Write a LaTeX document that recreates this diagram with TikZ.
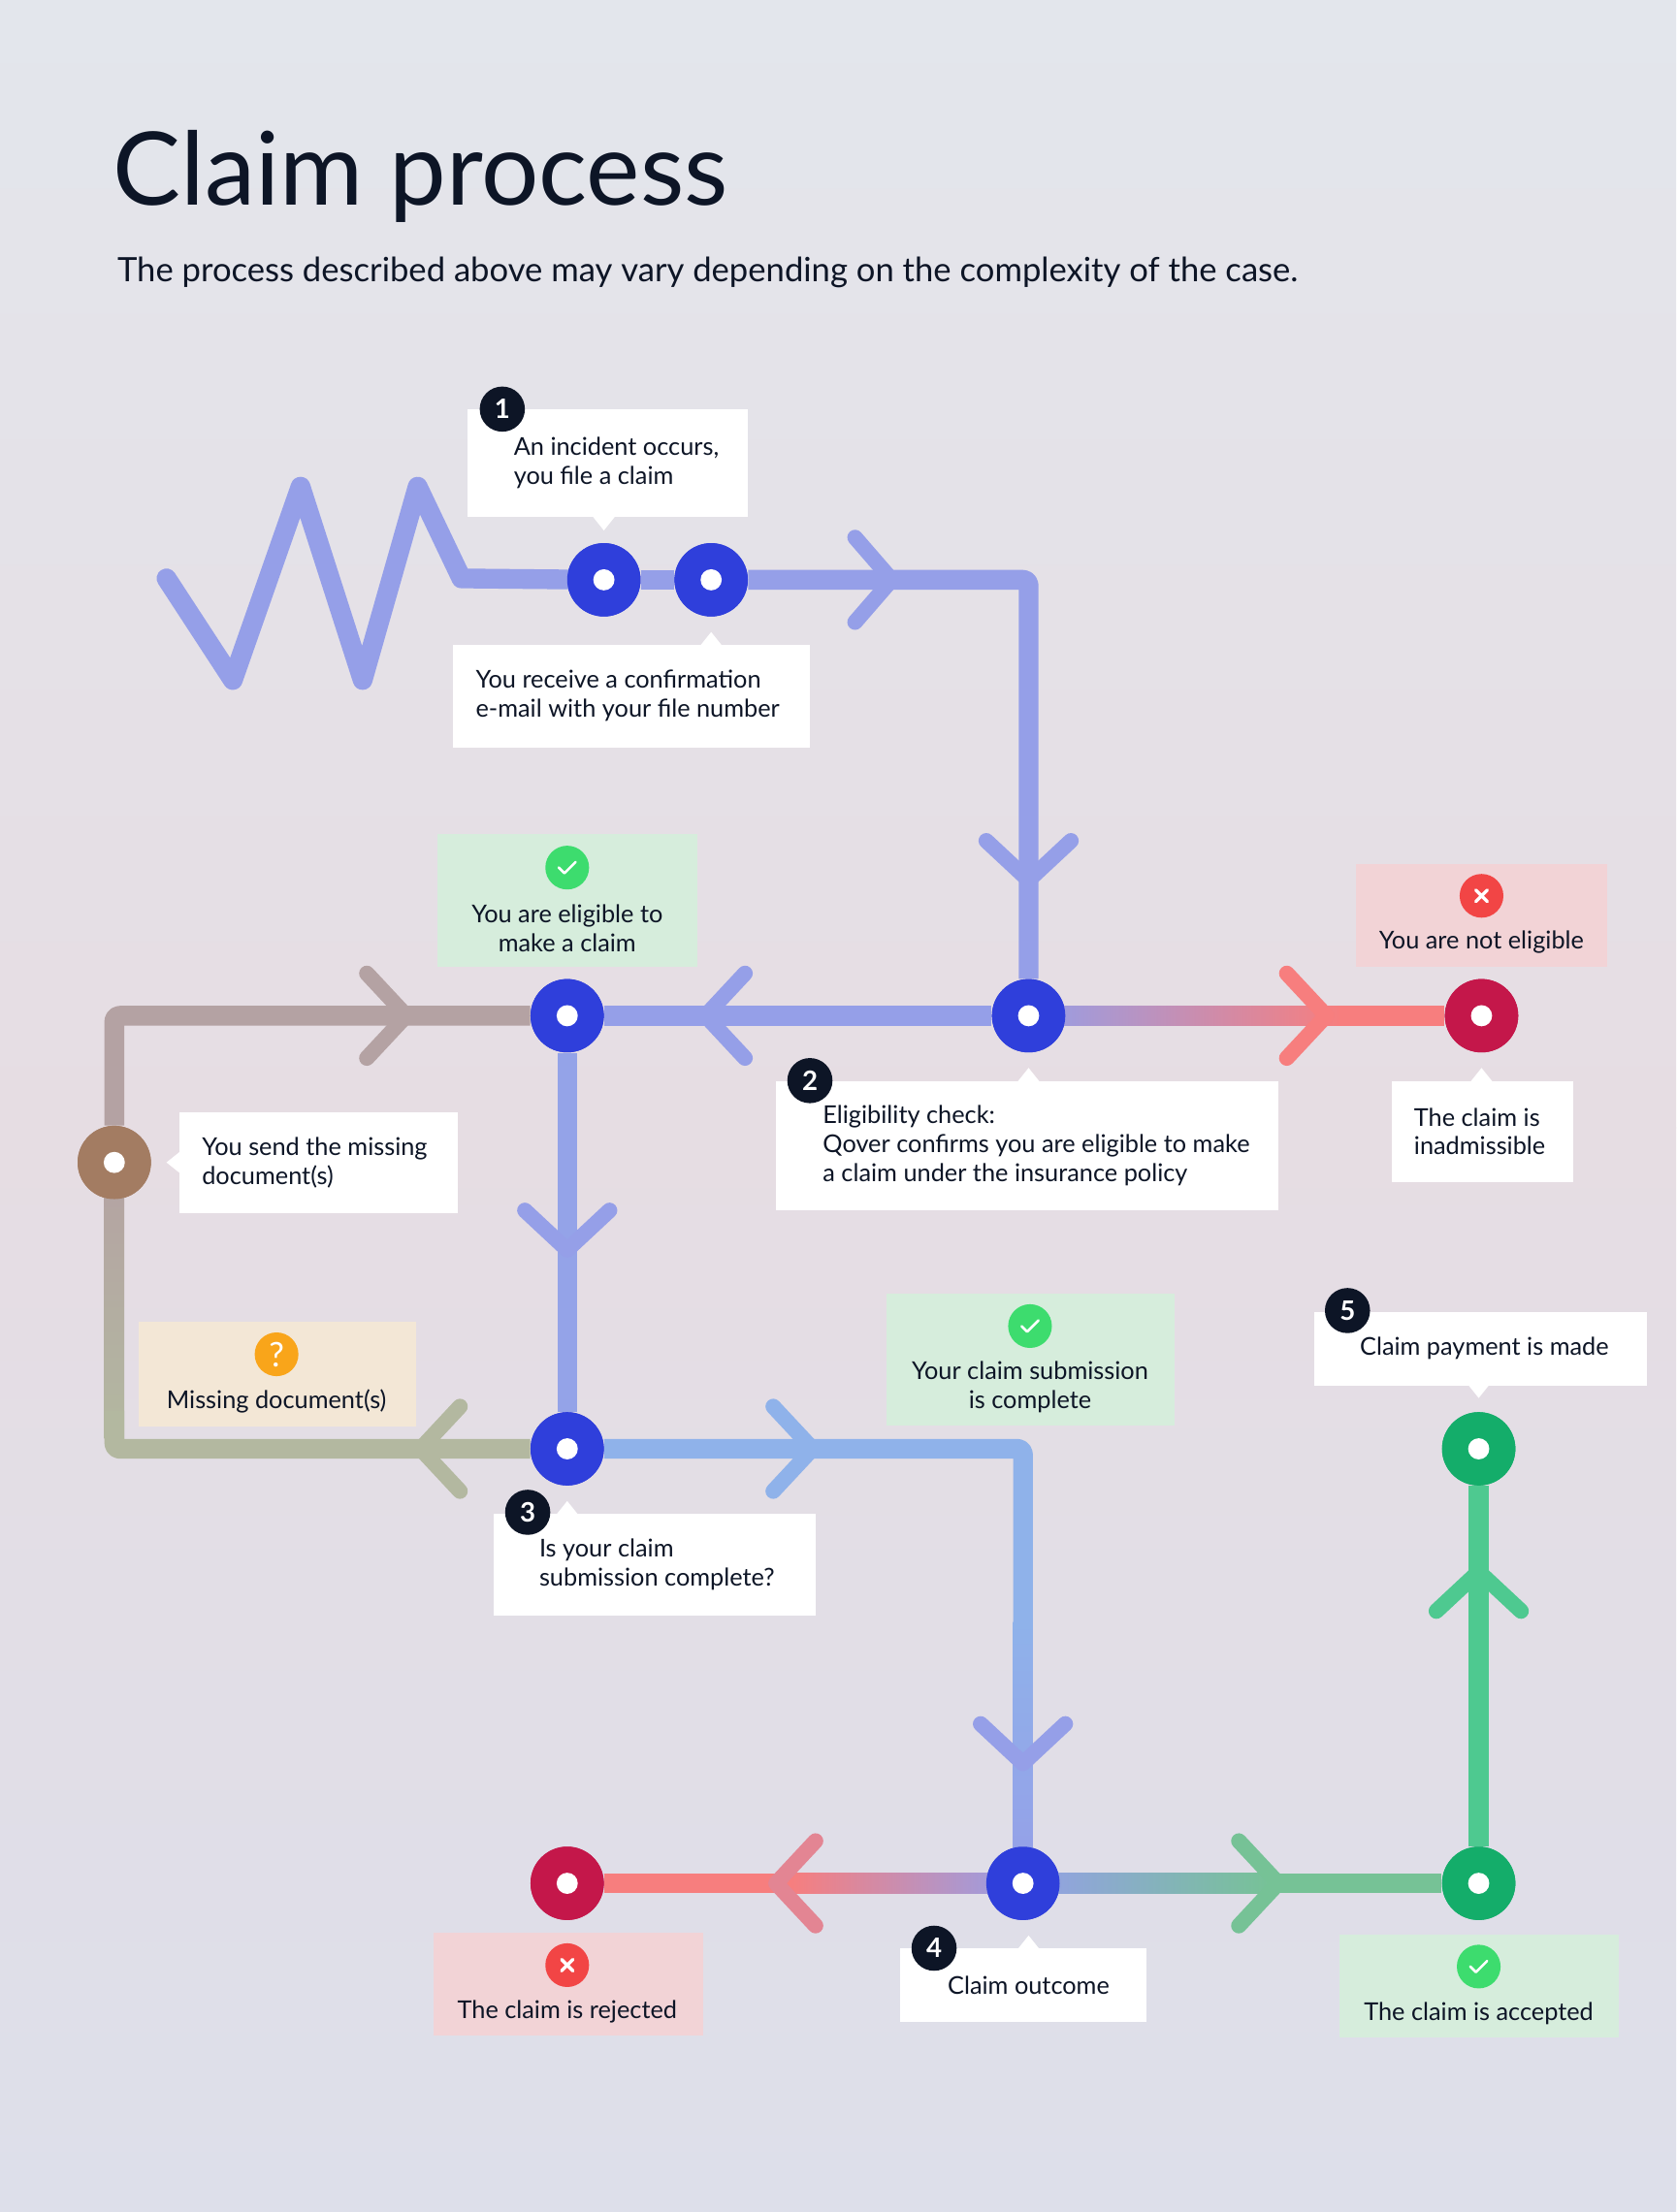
\documentclass[tikz,border=0pt]{standalone}
\usepackage{fontspec}
\setmainfont{Lato}
\definecolor{lav}{HTML}{959FE8}
\definecolor{nblue}{HTML}{2F3FDB}
\definecolor{lred}{HTML}{F77E7E}
\definecolor{nred}{HTML}{C4174A}
\definecolor{taupe}{HTML}{B4A2A3}
\definecolor{sage}{HTML}{B3B8A0}
\definecolor{nbrown}{HTML}{A37C62}
\definecolor{lblue}{HTML}{8FB2EA}
\definecolor{lgreen}{HTML}{4EC990}
\definecolor{ngreen}{HTML}{14AD6A}
\definecolor{ink}{HTML}{0D1526}
\definecolor{okfill}{HTML}{D6EDDC}
\definecolor{nofill}{HTML}{F2D3D6}
\definecolor{qfill}{HTML}{F3E7D6}
\definecolor{okic}{HTML}{3DDC6E}
\definecolor{noic}{HTML}{F24545}
\definecolor{qic}{HTML}{F9A51A}
\tikzset{
 ln/.style={line width=14pt},
 chev/.style={line width=11pt},
 stn/.style={circle,minimum size=52pt,inner sep=0pt},
 box/.style={fill=white,minimum width=#1,anchor=north west,inner sep=0pt},
 txt/.style={font=\fontsize{17.4}{20.5}\selectfont,text=ink,align=left,inner sep=0pt},
 badge/.style={circle,fill=ink,text=white,minimum size=32pt,inner sep=0pt,font=\fontsize{19}{19}\selectfont\bfseries},
 icon/.style={circle,minimum size=31pt,inner sep=0pt,text=white},
 okmark/.pic={\draw[white,line width=1.8pt,line cap=round,line join=round] (-6,0)--(-2,4)--(6,-4);},
 nomark/.pic={\draw[white,line width=2.4pt,line cap=round] (-4,-4)--(4,4) (-4,4)--(4,-4);},
}
\begin{document}
\begin{tikzpicture}[x=1pt,y=-1pt]
\useasboundingbox (0,0) rectangle (1188,1568);
\shade[top color={rgb,255:red,227;green,230;blue,236},bottom color={rgb,255:red,230;green,221;blue,227}] (0,0) rectangle (1188,800);
\shade[top color={rgb,255:red,230;green,221;blue,227},bottom color={rgb,255:red,221;green,223;blue,234}] (0,799) rectangle (1188,1568);
\node[anchor=west,inner sep=0pt,text=ink,font=\fontsize{72}{72}\selectfont] (title) at (80,125) {Claim process};
\node[anchor=west,inner sep=0pt,text=ink,font=\fontsize{23.8}{26}\selectfont] (sub) at (83,193) {The process described above may vary depending on the complexity of the case.};
% stations
\node[stn,fill=nblue] (s1) at (428,411) {};
\node[stn,fill=nblue] (s1b) at (504,411) {};
\node[stn,fill=nblue] (s2) at (729,720) {};
\node[stn,fill=nred] (s2r) at (1050,720) {};
\node[stn,fill=nblue] (s2l) at (402,720) {};
\node[stn,fill=nbrown] (sb) at (81,824) {};
\node[stn,fill=nblue] (s3) at (402,1027) {};
\node[stn,fill=nblue] (s4) at (725,1335) {};
\node[stn,fill=nred] (s4r) at (402,1335) {};
\node[stn,fill=ngreen] (s4g) at (1048,1335) {};
\node[stn,fill=ngreen] (s5) at (1048,1027) {};
\coordinate (c1) at (729,411);
\coordinate (tl) at (81,720);
\coordinate (bl) at (81,1027);
\coordinate (c3) at (725,1027);
\begin{scope}[line join=round,line cap=round]
\draw[ln,lav] (118,410)--(165,482)--(213,345)--(257,482)--(296,345)--(327,410)--(s1);
\draw[ln,lav,line cap=butt,rounded corners=4pt] (s1b)--(c1)--(s2);
\draw[ln,lav,line cap=butt] (s1)--(s1b);
\draw[ln,lav,line cap=butt] (s2)--(s2l);
\shade[left color=lav,right color=lred] (729,713) rectangle (950,727);
\draw[ln,lred,line cap=butt] (950,720)--(s2r);
\draw[ln,taupe,line cap=butt,rounded corners=4pt] (s2l)--(tl)--(sb);
\shade[top color=taupe,bottom color=sage] (74,824) rectangle (88,1020);
\draw[ln,sage,line cap=butt,rounded corners=4pt] (81,1000)--(bl)--(s3);
\draw[ln,lav!80!lblue,line cap=butt] (s2l)--(s3);
\draw[ln,lblue,line cap=butt,rounded corners=4pt] (s3)--(c3)--(725,1150);
\shade[top color=lblue,bottom color=lav] (718,1150) rectangle (732,1335);
\shade[left color=lred,right color=lav] (560,1328) rectangle (725,1342);
\draw[ln,lred,line cap=butt] (s4r)--(561,1335);
\shade[left color=lav,right color=lgreen!60!sage] (725,1328) rectangle (900,1342);
\draw[ln,lgreen!60!sage,line cap=butt] (899,1335)--(s4g);
\draw[ln,lgreen,line cap=butt] (s4g)--(s5);
% chevrons
\draw[chev,lav] (606,381)--(632,411)--(606,441);
\draw[chev,lav] (699,596)--(729,624)--(759,596);
\draw[chev,lav] (528,690)--(500,720)--(528,750);
\draw[chev,lred] (912,690)--(940,720)--(912,750);
\draw[chev,taupe] (260,690)--(288,720)--(260,750);
\draw[chev,lav] (372,858)--(402,886)--(432,858);
\draw[chev,sage] (326,997)--(298,1027)--(326,1057);
\draw[chev,lblue] (548,997)--(576,1027)--(548,1057);
\draw[chev,lav] (695,1222)--(725,1250)--(755,1222);
\draw[chev,lred!80!lav] (578,1305)--(550,1335)--(578,1365);
\draw[chev,lgreen!60!sage] (878,1305)--(906,1335)--(878,1365);
\draw[chev,lgreen] (1018,1142)--(1048,1114)--(1078,1142);
\end{scope}
\foreach \s/\c in {s1/nblue,s1b/nblue,s2/nblue,s2r/nred,s2l/nblue,sb/nbrown,s3/nblue,s4/nblue,s4r/nred,s4g/ngreen,s5/ngreen}{
 \fill[\c] (\s) circle (26);
 \fill[white] (\s) circle (7.5);}
% boxes
\node[box=199,minimum height=76] (b1) at (331,290) {};
\fill[white] (420,366)--(436,366)--(428,376)--cycle;
\node[txt,anchor=west] at (364,328) {An incident occurs,\\you file a claim};
\node[badge] at (356,290) {1};
\node[box=253,minimum height=73] (b2) at (321,457) {};
\fill[white] (496,458)--(512,458)--(504,448)--cycle;
\node[txt,anchor=west] at (337,493) {You receive a confirmation\\e-mail with your file number};
\node[box=184,minimum height=94,fill=okfill] (b3) at (310,591) {};
\node[txt,align=center] at (402,658) {You are eligible to\\make a claim};
\node[icon,fill=okic] (i1) at (402,615) {};
\pic at (i1) {okmark};
\node[box=178,minimum height=73,fill=nofill] (b4) at (961,612) {};
\node[txt] at (1050,668) {You are not eligible};
\node[icon,fill=noic] (i2) at (1050,635) {};
\pic at (i2) {nomark};
\node[box=356,minimum height=92] (b5) at (550,766) {};
\fill[white] (721,767)--(737,767)--(729,757)--cycle;
\node[txt,anchor=west] at (583,812) {Eligibility check:\\Qover confirms you are eligible to make\\a claim under the insurance policy};
\node[badge] at (574,766) {2};
\node[box=129,minimum height=72] (b6) at (986,766) {};
\fill[white] (1042,767)--(1058,767)--(1050,757)--cycle;
\node[txt,anchor=west] at (1002,802) {The claim is\\inadmissible};
\node[box=197,minimum height=72] (b7) at (127,788) {};
\fill[white] (128,816)--(128,832)--(118,824)--cycle;
\node[txt,anchor=west] at (143,824) {You send the missing\\document(s)};
\node[box=197,minimum height=74,fill=qfill] (b8) at (98,937) {};
\node[txt] at (196,993) {Missing document(s)};
\node[icon,fill=qic,font=\fontsize{24}{24}\selectfont] at (196,960) {?};
\node[box=204,minimum height=93,fill=okfill] (b9) at (628,917) {};
\node[txt,align=center] at (730,983) {Your claim submission\\is complete};
\node[icon,fill=okic] (i3) at (730,940) {};
\pic at (i3) {okmark};
\node[box=236,minimum height=52] (b10) at (931,930) {};
\fill[white] (1040,981)--(1056,981)--(1048,991)--cycle;
\node[txt] at (1052,956) {Claim payment is made};
\node[badge] at (955,929) {5};
\node[box=228,minimum height=72] (b11) at (350,1073) {};
\fill[white] (394,1074)--(410,1074)--(402,1064)--cycle;
\node[txt,anchor=west] at (382,1109) {Is your claim\\submission complete?};
\node[badge] at (374,1072) {3};
\node[box=191,minimum height=73,fill=nofill] (b12) at (307,1370) {};
\node[txt] at (402,1426) {The claim is rejected};
\node[icon,fill=noic] (i4) at (402,1393) {};
\pic at (i4) {nomark};
\node[box=174,minimum height=52] (b13) at (638,1381) {};
\fill[white] (721,1382)--(737,1382)--(729,1372)--cycle;
\node[txt] at (729,1407) {Claim outcome};
\node[badge] at (662,1381) {4};
\node[box=198,minimum height=73,fill=okfill] (b14) at (949,1371) {};
\node[txt] at (1048,1427) {The claim is accepted};
\node[icon,fill=okic] (i5) at (1048,1394) {};
\pic at (i5) {okmark};
\end{tikzpicture}
\end{document}
